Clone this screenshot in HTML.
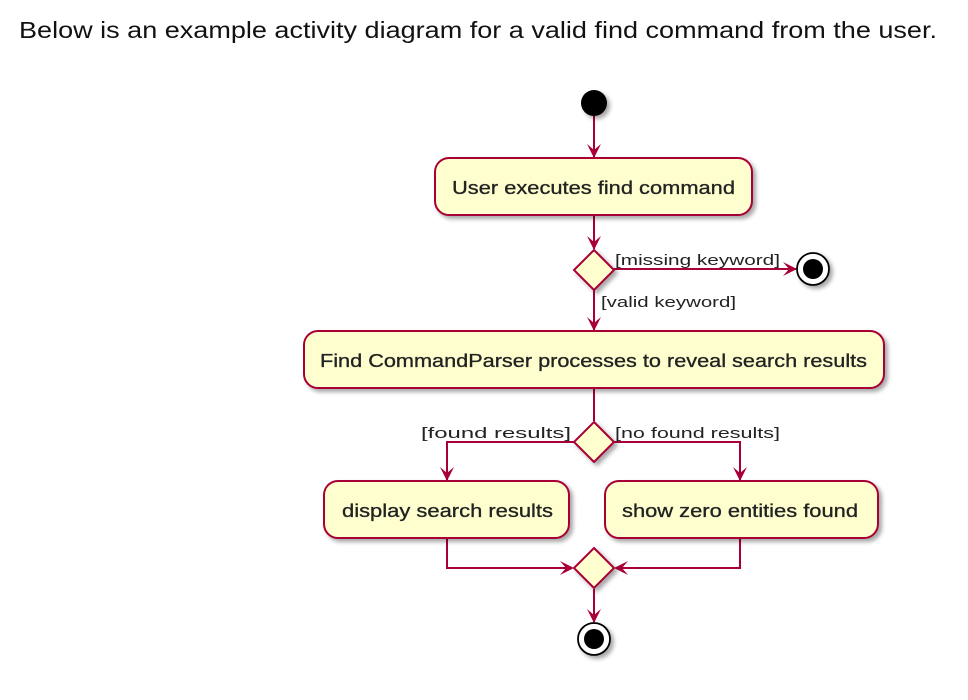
<!DOCTYPE html>
<html><head><meta charset="utf-8"><style>
html,body{margin:0;padding:0;background:#fff;width:968px;height:700px;overflow:hidden}
</style></head><body>
<svg width="968" height="700" viewBox="0 0 968 700" xmlns="http://www.w3.org/2000/svg" font-family="Liberation Sans, DejaVu Sans, sans-serif">
<defs>
<filter id="sh" x="-20%" y="-20%" width="150%" height="160%"><feGaussianBlur in="SourceAlpha" stdDeviation="2"/><feOffset dx="3" dy="3"/><feComponentTransfer><feFuncA type="linear" slope="0.35"/></feComponentTransfer><feMerge><feMergeNode/><feMergeNode in="SourceGraphic"/></feMerge></filter>
</defs>
<text x="19" y="38" font-size="23" fill="#111" textLength="918" lengthAdjust="spacingAndGlyphs">Below is an example activity diagram for a valid find command from the user.</text>

<g stroke="#A80036" stroke-width="2" fill="none">
<line x1="594" y1="116" x2="594" y2="157"/>
<line x1="594" y1="216" x2="594" y2="249"/>
<line x1="614" y1="269" x2="796" y2="269"/>
<line x1="594" y1="290" x2="594" y2="330"/>
<line x1="594" y1="389" x2="594" y2="421"/>
<polyline points="574,442 447,442 447,480"/>
<polyline points="614,442 740,442 740,480"/>
<polyline points="447,539 447,568 572,568"/>
<polyline points="740,539 740,568 616,568"/>
<line x1="594" y1="589" x2="594" y2="622"/>
</g>
<g fill="#A80036">
<polygon points="587,144 594,158 601,144 594,150"/>
<polygon points="587,236 594,250 601,236 594,242"/>
<polygon points="783,262 797,269 783,276 789,269"/>
<polygon points="587,317 594,331 601,317 594,323"/>
<polygon points="440,467 447,481 454,467 447,473"/>
<polygon points="733,467 740,481 747,467 740,473"/>
<polygon points="560,561 574,568 560,575 566,568"/>
<polygon points="628,561 614,568 628,575 622,568"/>
<polygon points="587,609 594,623 601,609 594,615"/>
</g>

<circle cx="594" cy="103" r="13" fill="#000" filter="url(#sh)"/>

<g fill="#FEFECE" stroke="#A80036" stroke-width="2" filter="url(#sh)">
<rect x="435" y="158" width="317" height="57" rx="14"/>
<rect x="304" y="331" width="580" height="57" rx="14"/>
<rect x="324" y="481" width="245" height="57" rx="14"/>
<rect x="605" y="481" width="273" height="57" rx="14"/>
<polygon points="594,250 614,270 594,290 574,270"/>
<polygon points="594,422 614,442 594,462 574,442"/>
<polygon points="594,548 614,568 594,588 574,568"/>
</g>

<g filter="url(#sh)">
<circle cx="813" cy="269" r="16" fill="#fff" stroke="#000" stroke-width="1.8"/>
<circle cx="594" cy="639" r="16" fill="#fff" stroke="#000" stroke-width="1.8"/>
</g>
<circle cx="813" cy="269" r="10" fill="#000"/>
<circle cx="594" cy="639" r="10" fill="#000"/>

<g fill="#222" font-size="18" stroke="#222" stroke-width="0.3">
<text x="452" y="194" textLength="283" lengthAdjust="spacingAndGlyphs">User executes find command</text>
<text x="320" y="367" textLength="547" lengthAdjust="spacingAndGlyphs">Find CommandParser processes to reveal search results</text>
<text x="342" y="517" textLength="211" lengthAdjust="spacingAndGlyphs">display search results</text>
<text x="622" y="517" textLength="236" lengthAdjust="spacingAndGlyphs">show zero entities found</text>
</g>
<g fill="#222" font-size="15">
<text x="615" y="265" textLength="165" lengthAdjust="spacingAndGlyphs">[missing keyword]</text>
<text x="601" y="307" textLength="135" lengthAdjust="spacingAndGlyphs">[valid keyword]</text>
<text x="421" y="438" textLength="150" lengthAdjust="spacingAndGlyphs">[found results]</text>
<text x="615" y="438" textLength="165" lengthAdjust="spacingAndGlyphs">[no found results]</text>
</g>
</svg>
</body></html>
